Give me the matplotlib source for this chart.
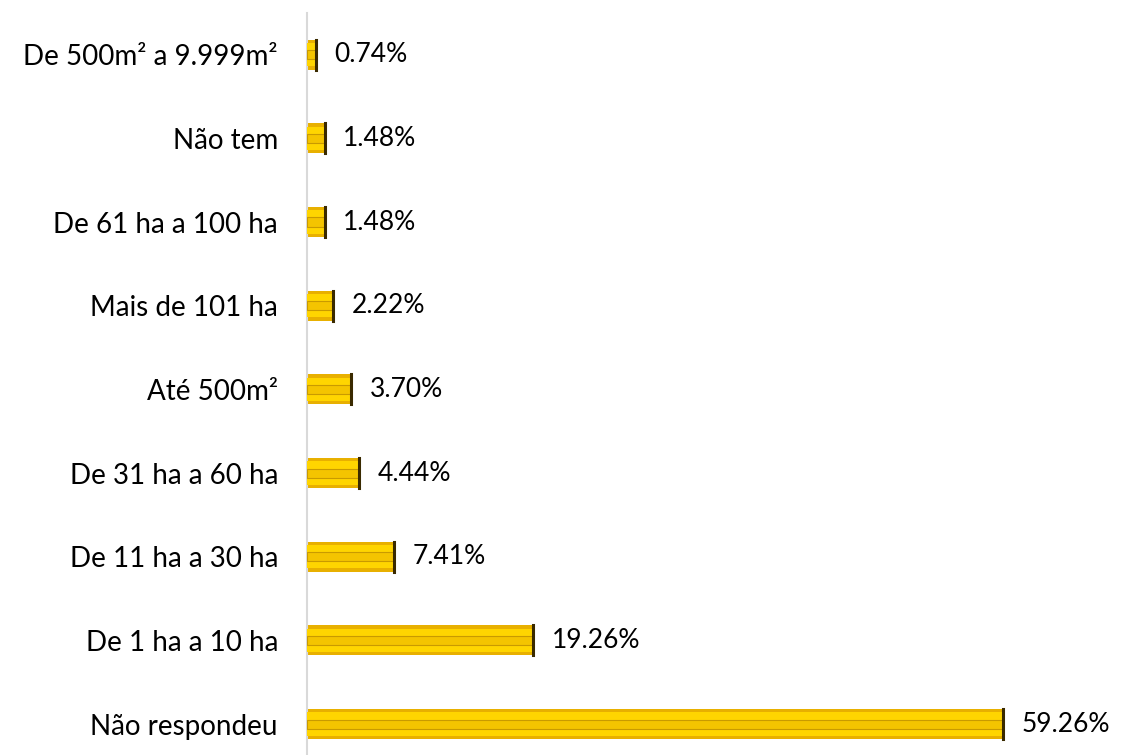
import matplotlib.pyplot as plt
import numpy as np

categories = ['Não respondeu', 'De 1 ha a 10 ha', 'De 11 ha a 30 ha', 'De 31 ha a 60 ha',
              'Até 500m²', 'Mais de 101 ha', 'De 61 ha a 100 ha', 'Não tem',
              'De 500m² a 9.999m²']
values = [59.26, 19.26, 7.41, 4.44, 3.70, 2.22, 1.48, 1.48, 0.74]

plt.rcParams['font.family'] = ['Lato', 'DejaVu Sans']

fig = plt.figure(figsize=(11.21, 7.55), dpi=100)
ax = fig.add_axes([0.274, 0.0, 0.726, 0.983])

y = np.arange(len(categories))
h = 0.36

# beveled gold bars
ax.barh(y, values, height=h, color='#E8B000', edgecolor='none', zorder=2)
ax.barh(y, values, height=h * 0.78, color='#FFD500', edgecolor='none', zorder=3)
ax.barh(y, values, height=h * 0.3, color='#F4C400', edgecolor='#C99A00',
        linewidth=0.8, zorder=4)
for yi, v in zip(y, values):
    ax.plot([v, v], [yi - h / 2, yi + h / 2], color='#3A2A00', lw=2.2, zorder=5)
    ax.text(v + 1.6, yi, f'{v:.2f}%', va='center', ha='left', fontsize=19, color='#000000')

ax.set_yticks(y)
ax.set_yticklabels(categories, fontsize=20)
ax.tick_params(axis='y', length=0, pad=21)
ax.set_xticks([])
ax.set_xlim(0, 69.3)
ax.set_ylim(-0.37, 8.5)

for s in ['top', 'right', 'bottom']:
    ax.spines[s].set_visible(False)
ax.spines['left'].set_color('#D9D9D9')
ax.spines['left'].set_linewidth(1.5)

fig.savefig('out.png', dpi=100)
